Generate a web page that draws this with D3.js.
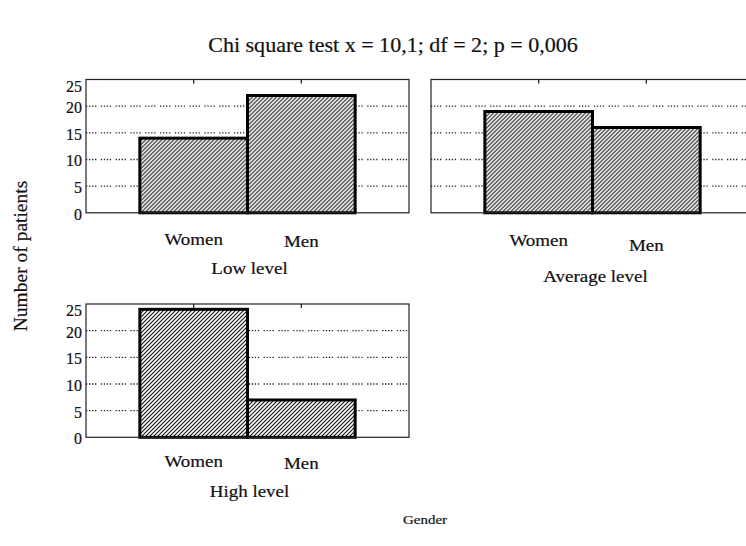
<!DOCTYPE html>
<html>
<head>
<meta charset="utf-8">
<script src="https://cdn.jsdelivr.net/npm/d3@7/dist/d3.min.js"></script>
<style>
  html, body { margin: 0; padding: 0; background: #fff; }
  svg { display: block; }
  text { font-family: "Liberation Serif", "Times New Roman", serif; fill: #111; stroke: #111; stroke-width: 0.2; }
</style>
</head>
<body>
<svg id="chart" width="746" height="546"></svg>
<script>
// Patient counts by gender within each level
const categories = ["Women", "Men"];
const levelNames = ["Low level", "Average level", "High level"];
const lowLevel = [14, 22];
const averageLevel = [19, 16];
const highLevel = [24, 7];
const yTickValues = [0, 5, 10, 15, 20, 25];
const yMax = 25;

const titleText = "Chi square test x = 10,1; df = 2; p = 0,006";
const yAxisTitle = "Number of patients";
const xAxisTitle = "Gender";

const svg = d3.select("#chart");

// Diagonal hatch fill for the bars
const defs = svg.append("defs");
const hatch = defs.append("pattern")
  .attr("id", "hatch")
  .attr("patternUnits", "userSpaceOnUse")
  .attr("width", 4).attr("height", 4);
hatch.append("rect").attr("width", 4).attr("height", 4).attr("fill", "#fff");
hatch.append("path")
  .attr("d", "M-1,1 l2,-2 M0,4 l4,-4 M3,5 l2,-2")
  .attr("stroke", "#111").attr("stroke-width", 1.1);

// Wide serif label helper (text is drawn slightly stretched horizontally)
function label(px, py, str, size, sx) {
  return svg.append("text")
    .attr("transform", `translate(${px},${py}) scale(${sx},1)`)
    .attr("text-anchor", "middle")
    .attr("font-size", size)
    .text(str);
}

const panelW = 323, panelH = 133.3;
const panels = [
  { name: levelNames[0], values: lowLevel, x: 86, y: 79.5, showY: true, lab: [245, 247], nameY: 274, nameDx: 2 },
  { name: levelNames[1], values: averageLevel, x: 431, y: 79.5, showY: false, lab: [246, 251], nameY: 282, nameDx: 3 },
  { name: levelNames[2], values: highLevel, x: 86, y: 304, showY: true, lab: [467, 469], nameY: 497, nameDx: 2 }
];

const x = d3.scaleBand().domain(categories).range([0, panelW]).paddingInner(0).paddingOuter(0.5);
const y = d3.scaleLinear().domain([0, yMax]).range([panelH, 0]);

panels.forEach(p => {
  const g = svg.append("g").attr("transform", `translate(${p.x},${p.y})`);

  // dotted horizontal grid
  g.selectAll("line.grid")
    .data(yTickValues.filter(v => v > 0 && v < yMax))
    .join("line")
    .attr("class", "grid")
    .attr("x1", 0).attr("x2", panelW)
    .attr("y1", d => y(d)).attr("y2", d => y(d))
    .attr("stroke", "#222")
    .attr("stroke-width", 1.3)
    .attr("stroke-dasharray", "1.3,1.7,1.3,1.7,1.3,1.7,1.3,4.5");

  // bars
  g.selectAll("rect.bar")
    .data(p.values)
    .join("rect")
    .attr("class", "bar")
    .attr("x", (d, i) => x(categories[i]))
    .attr("y", d => y(d))
    .attr("width", x.bandwidth())
    .attr("height", d => y(0) - y(d))
    .attr("fill", "url(#hatch)")
    .attr("stroke", "#000")
    .attr("stroke-width", 3)
    .attr("stroke-linejoin", "miter");

  // frame
  g.append("rect")
    .attr("x", 0).attr("y", 0)
    .attr("width", panelW).attr("height", panelH)
    .attr("fill", "none").attr("stroke", "#222").attr("stroke-width", 1.2);

  // category ticks along the top edge
  g.selectAll("line.ctick")
    .data(categories)
    .join("line")
    .attr("class", "ctick")
    .attr("x1", d => x(d) + x.bandwidth() / 2)
    .attr("x2", d => x(d) + x.bandwidth() / 2)
    .attr("y1", 0).attr("y2", 4)
    .attr("stroke", "#222").attr("stroke-width", 1.3);

  // y axis labels
  if (p.showY) {
    const axis = d3.axisLeft(y).tickValues(yTickValues).tickSize(0).tickPadding(4);
    const ag = g.append("g").call(axis);
    ag.select(".domain").remove();
    ag.selectAll("text")
      .attr("font-family", "Liberation Serif, serif")
      .attr("font-size", 16)
      .attr("fill", "#111")
      .attr("dy", d => d === yMax ? "0.72em" : "0.4em");
  }

  // category labels
  categories.forEach((c, i) => {
    label(p.x + x(c) + x.bandwidth() / 2, p.lab[i], c, 16.5, 1.15);
  });

  // level name
  label(p.x + panelW / 2 + p.nameDx, p.nameY, p.name, 16.5, 1.15);
});

// titles
label(393, 52, titleText, 21, 1.05);

svg.append("text")
  .attr("transform", "translate(27,256) rotate(-90)")
  .attr("text-anchor", "middle")
  .attr("font-size", 19.5)
  .text(yAxisTitle);

label(425, 524, xAxisTitle, 13, 1.15);
</script>
</body>
</html>
